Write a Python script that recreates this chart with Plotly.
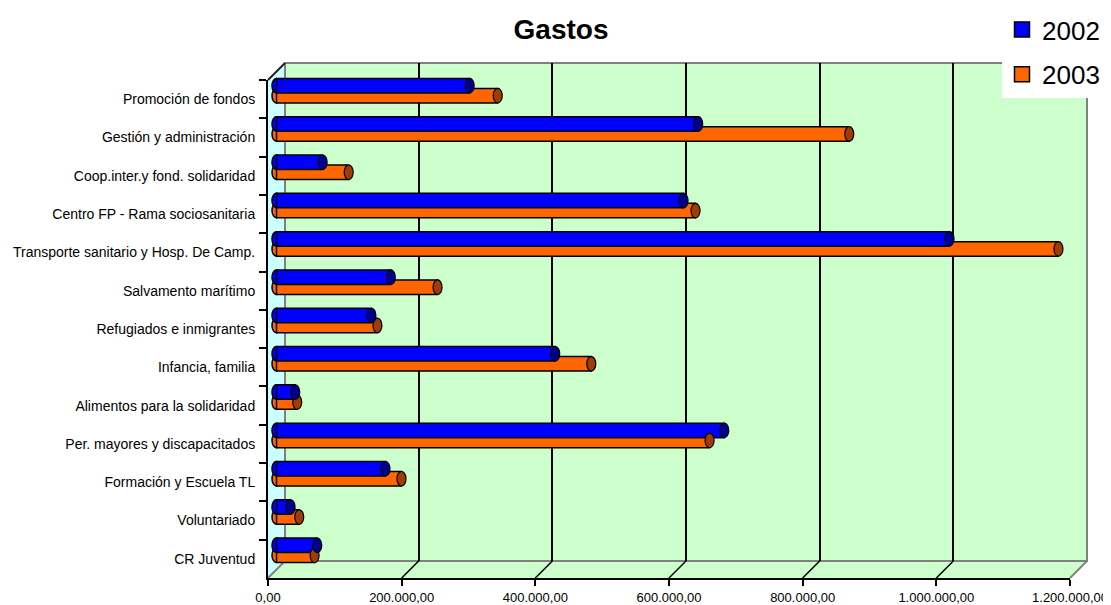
import plotly.graph_objects as go

# ---------------- data ----------------
categories = [
    "Promoción de fondos",
    "Gestión y administración",
    "Coop.inter.y fond. solidaridad",
    "Centro FP - Rama sociosanitaria",
    "Transporte sanitario y Hosp. De Camp.",
    "Salvamento marítimo",
    "Refugiados e inmigrantes",
    "Infancia, familia",
    "Alimentos para la solidaridad",
    "Per. mayores y discapacitados",
    "Formación y Escuela TL",
    "Voluntariado",
    "CR Juventud",
]
gastos_2002 = [289000, 631000, 69000, 609000, 1007000, 171000, 142000,
               417000, 28000, 670000, 163000, 21000, 61000]
gastos_2003 = [331000, 857000, 108000, 627000, 1170000, 241000, 151000,
               471000, 31000, 648000, 187000, 34000, 57000]
series_names = ["2002", "2003"]
x_tickvals = [0, 200000, 400000, 600000, 800000, 1000000, 1200000]
x_ticktext = ["0,00", "200.000,00", "400.000,00", "600.000,00",
              "800.000,00", "1.000.000,00", "1.200.000,00"]

# ---------------- geometry / style ----------------
OFFSET = 8                       # page body margin
W, H = 1111 - OFFSET, 605 - OFFSET
FONT = "Arial, 'Liberation Sans', sans-serif"


def px(x):
    return (x - OFFSET) / W


def py(y):
    return 1 - (y - OFFSET) / H


FL, FR, FT, FB = 268, 1070, 80, 578      # front frame (screen pixels)
D = 17                                   # 3D depth offset
HALF = D / 2
XMAX = x_tickvals[-1]
k = (FR - FL) / XMAX
PAD = 15000

BLUE, ORANGE = "#0000FF", "#FF6600"
BLUE_CAP, ORANGE_CAP = "#000090", "#A03C08"
CAT_H = (FB - FT) / len(categories)
BW = 14.5 / CAT_H
OFF_2002 = (-5 - 7.25) / CAT_H
OFF_2003 = (5 - 7.25) / CAT_H

fig = go.Figure()

# legend entries (on back subplot)
fig.add_trace(go.Scatter(x=[None], y=[None], mode="markers", name=series_names[0],
                         legendgroup="a", xaxis="x", yaxis="y",
                         marker=dict(symbol="square", size=15, color=BLUE,
                                     line=dict(color="black", width=1.5))))
fig.add_trace(go.Scatter(x=[None], y=[None], mode="markers", name=series_names[1],
                         legendgroup="b", xaxis="x", yaxis="y",
                         marker=dict(symbol="square", size=15, color=ORANGE,
                                     line=dict(color="black", width=1.5))))

# bars (2003 behind, 2002 in front)
fig.add_trace(go.Bar(y=categories, x=gastos_2003, orientation="h", base=0,
                     width=BW, offset=OFF_2003, xaxis="x2", yaxis="y2",
                     marker=dict(color=ORANGE, line=dict(color="black", width=1.5)),
                     showlegend=False, name=series_names[1]))
fig.add_trace(go.Bar(y=categories, x=gastos_2002, orientation="h", base=0,
                     width=BW, offset=OFF_2002, xaxis="x2", yaxis="y2",
                     marker=dict(color=BLUE, line=dict(color="black", width=1.5)),
                     showlegend=False, name=series_names[0]))

# front axes category registration
fig.add_trace(go.Scatter(x=[None] * len(categories), y=categories, mode="markers",
                         xaxis="x3", yaxis="y3", showlegend=False, hoverinfo="skip"))

shapes = []
# walls
shapes.append(dict(type="path", xref="paper", yref="paper", layer="below",
                   path=f"M {px(FL)},{py(FT)} L {px(FL+D)},{py(FT-D)} L {px(FL+D)},{py(FB-D)} L {px(FL)},{py(FB)} Z",
                   fillcolor="#CCFFFF", line=dict(width=0)))
shapes.append(dict(type="path", xref="paper", yref="paper", layer="below",
                   path=f"M {px(FL)},{py(FB)} L {px(FL+D)},{py(FB-D)} L {px(FR+D)},{py(FB-D)} L {px(FR)},{py(FB)} Z",
                   fillcolor="#CCFFCC", line=dict(width=0)))
shapes.append(dict(type="rect", xref="paper", yref="paper", layer="below",
                   x0=px(FL+D), x1=px(FR+D), y0=py(FB-D), y1=py(FT-D),
                   fillcolor="#CCFFCC", line=dict(color="#808080", width=2)))
for (x0, y0, x1, y1, c) in [(FL, FB, FL+D, FB-D, "#808080"),
                            (FR, FB, FR+D, FB-D, "#808080"),
                            (FL, FT, FL+D, FT-D, "#202020")]:
    shapes.append(dict(type="line", xref="paper", yref="paper", layer="below",
                       x0=px(x0), y0=py(y0), x1=px(x1), y1=py(y1),
                       line=dict(color=c, width=2)))
# floor grid diagonals
for v in x_tickvals[1:-1]:
    shapes.append(dict(type="line", xref="x3", yref="paper", xsizemode="pixel",
                       xanchor=v, x0=0, x1=D, y0=py(FB), y1=py(FB-D),
                       line=dict(color="black", width=1.5)))

# cylinder rounded back ends and front caps
for vals, off, col, cap in [(gastos_2003, OFF_2003, ORANGE, ORANGE_CAP),
                            (gastos_2002, OFF_2002, BLUE, BLUE_CAP)]:
    for i, v in enumerate(vals):
        shapes.append(dict(type="circle", xref="x2", yref="y2", layer="below",
                           xsizemode="pixel", xanchor=0, x0=-4.5, x1=4.5,
                           y0=i + off, y1=i + off + BW,
                           fillcolor=col, line=dict(color="black", width=1.5)))
for vals, off, col, cap in [(gastos_2003, OFF_2003, ORANGE, ORANGE_CAP),
                            (gastos_2002, OFF_2002, BLUE, BLUE_CAP)]:
    for i, v in enumerate(vals):
        shapes.append(dict(type="circle", xref="x2", yref="y2",
                           xsizemode="pixel", xanchor=v, x0=-4.5, x1=4.5,
                           y0=i + off, y1=i + off + BW,
                           fillcolor=cap, line=dict(color="black", width=1.2)))

fig.update_layout(
    width=W, height=H,
    margin=dict(l=0, r=0, t=0, b=0, autoexpand=False),
    paper_bgcolor="white", plot_bgcolor="rgba(0,0,0,0)",
    font=dict(family=FONT, color="black"),
    barmode="overlay",
    title=dict(text="<b>Gastos</b>", x=px(561), xanchor="center",
               y=py(29), yanchor="middle", xref="paper", yref="paper",
               font=dict(family=FONT, size=28, color="black")),
    showlegend=True,
    legend=dict(x=px(1002), xanchor="left", y=py(6), yanchor="top",
                bgcolor="white", borderwidth=0, traceorder="grouped",
                tracegroupgap=8, font=dict(family=FONT, size=26, color="black")),
    # back wall axes
    xaxis=dict(domain=[px(FL+D), px(FR+D)], range=[0, XMAX], anchor="y",
               tickvals=x_tickvals[1:-1], showgrid=True, gridcolor="black",
               gridwidth=1.5, showticklabels=False, ticks="", zeroline=False,
               showline=False, fixedrange=True),
    yaxis=dict(domain=[py(FB-D), py(FT-D)], range=[0, 1], anchor="x",
               showgrid=False, showticklabels=False, zeroline=False,
               ticks="", showline=False, fixedrange=True),
    # bar axes (mid depth)
    xaxis2=dict(domain=[px(FL+HALF-PAD*k), px(FR+HALF+PAD*k)],
                range=[-PAD, XMAX+PAD], anchor="y2", visible=False),
    yaxis2=dict(domain=[py(FB-HALF), py(FT-HALF)], type="category",
                categoryorder="array", categoryarray=categories,
                range=[len(categories)-0.5, -0.5], anchor="x2", visible=False),
    # front axes
    xaxis3=dict(domain=[px(FL), px(FR)], range=[0, XMAX], anchor="y3",
                tickvals=x_tickvals, ticktext=x_ticktext, ticks="outside",
                ticklen=6, tickwidth=2, tickcolor="black", showline=True,
                linecolor="black", linewidth=2, showgrid=False, zeroline=False,
                tickfont=dict(family=FONT, size=13, color="black")),
    yaxis3=dict(domain=[py(FB), py(FT)], type="category",
                categoryorder="array", categoryarray=categories,
                range=[len(categories)-0.5, -0.5], anchor="x3",
                tickson="boundaries", ticks="outside", ticklen=7, tickwidth=2,
                tickcolor="black", showline=True, linecolor="black", linewidth=2,
                showgrid=False, zeroline=False, ticklabelstandoff=8,
                tickfont=dict(family=FONT, size=14, color="black")),
    shapes=shapes,
)

fig.write_html("out.html")
